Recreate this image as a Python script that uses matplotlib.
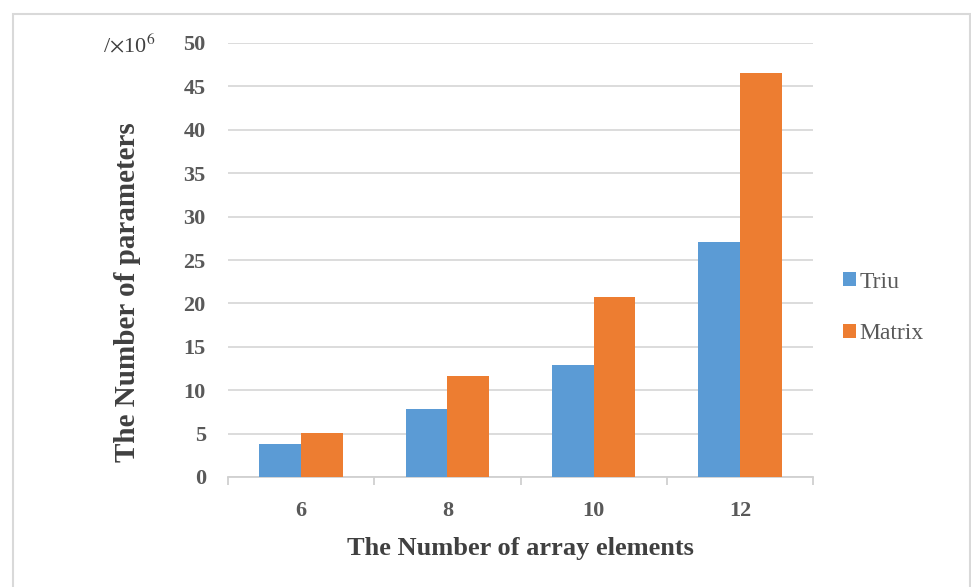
import matplotlib
matplotlib.use('Agg')
import matplotlib.pyplot as plt
import numpy as np
from matplotlib.patches import Rectangle

# parameter counts (x 10^6) per array size
elements = ['6', '8', '10', '12']
triu = [3.8, 7.8, 12.9, 27.1]
matrix = [5.1, 11.6, 20.7, 46.5]

blue = '#5b9bd5'
orange = '#ed7d31'
serif = 'Liberation Serif'

fig = plt.figure(figsize=(9.71, 5.87), dpi=100)
ax = fig.add_axes([228/971, 1-477/587, (813-228)/971, (477-43)/587])

x = np.arange(len(elements))
w = 0.286
ax.bar(x - w/2, triu, w, color=blue, label='Triu', zorder=3)
ax.bar(x + w/2, matrix, w, color=orange, label='Matrix', zorder=3)

ax.set_xlim(-0.5, len(elements) - 0.5)
ax.set_ylim(0, 50)
ax.set_yticks(np.arange(0, 51, 5))
ax.yaxis.grid(True, color='#d9d9d9', lw=1.3, zorder=0)
for s in ['top', 'right', 'left']:
    ax.spines[s].set_visible(False)
ax.spines['bottom'].set_color('#d0d0d0')
ax.spines['bottom'].set_linewidth(1.3)

# category boundary ticks
ax.set_xticks(np.arange(-0.5, len(elements)), minor=True)
ax.set_xticks(x)
ax.set_xticklabels(elements)
ax.tick_params(axis='x', which='major', length=0, pad=17)
ax.tick_params(axis='x', which='minor', length=6, color='#d0d0d0', width=1.3)
ax.tick_params(axis='y', length=0, pad=16)
for lab in ax.get_xticklabels() + ax.get_yticklabels():
    lab.set_fontfamily(serif)
    lab.set_fontweight('bold')
    lab.set_fontsize(16)
    lab.set_color('#595959')

ax.set_xlabel('The Number of array elements', family=serif, fontweight='bold',
              fontsize=19, color='#404040', labelpad=12)
ax.set_ylabel('The Number of parameters', family=serif, fontweight='bold',
              fontsize=21, color='#404040')
ax.yaxis.set_label_coords(-0.149, 0.425)
fig.text(103/971, 1-46/587, r'/$\times$10$^6$', family=serif, fontsize=16,
         color='#404040', va='center', ha='left',
         math_fontfamily='stix')

leg = fig.legend(loc='center left', bbox_to_anchor=(822/971, 1-308/587),
                 frameon=False, prop={'family': serif, 'size': 17},
                 handlelength=0.55, handleheight=0.55, handletextpad=0.15,
                 labelspacing=1.3, labelcolor='#595959')

# outer chart frame
fig.patches.append(Rectangle((13/971, -0.05), 957/971, 1.05 - 14/587,
                             transform=fig.transFigure, fill=False,
                             edgecolor='#d9d9d9', lw=1.5))

fig.savefig('out.png', dpi=100)
